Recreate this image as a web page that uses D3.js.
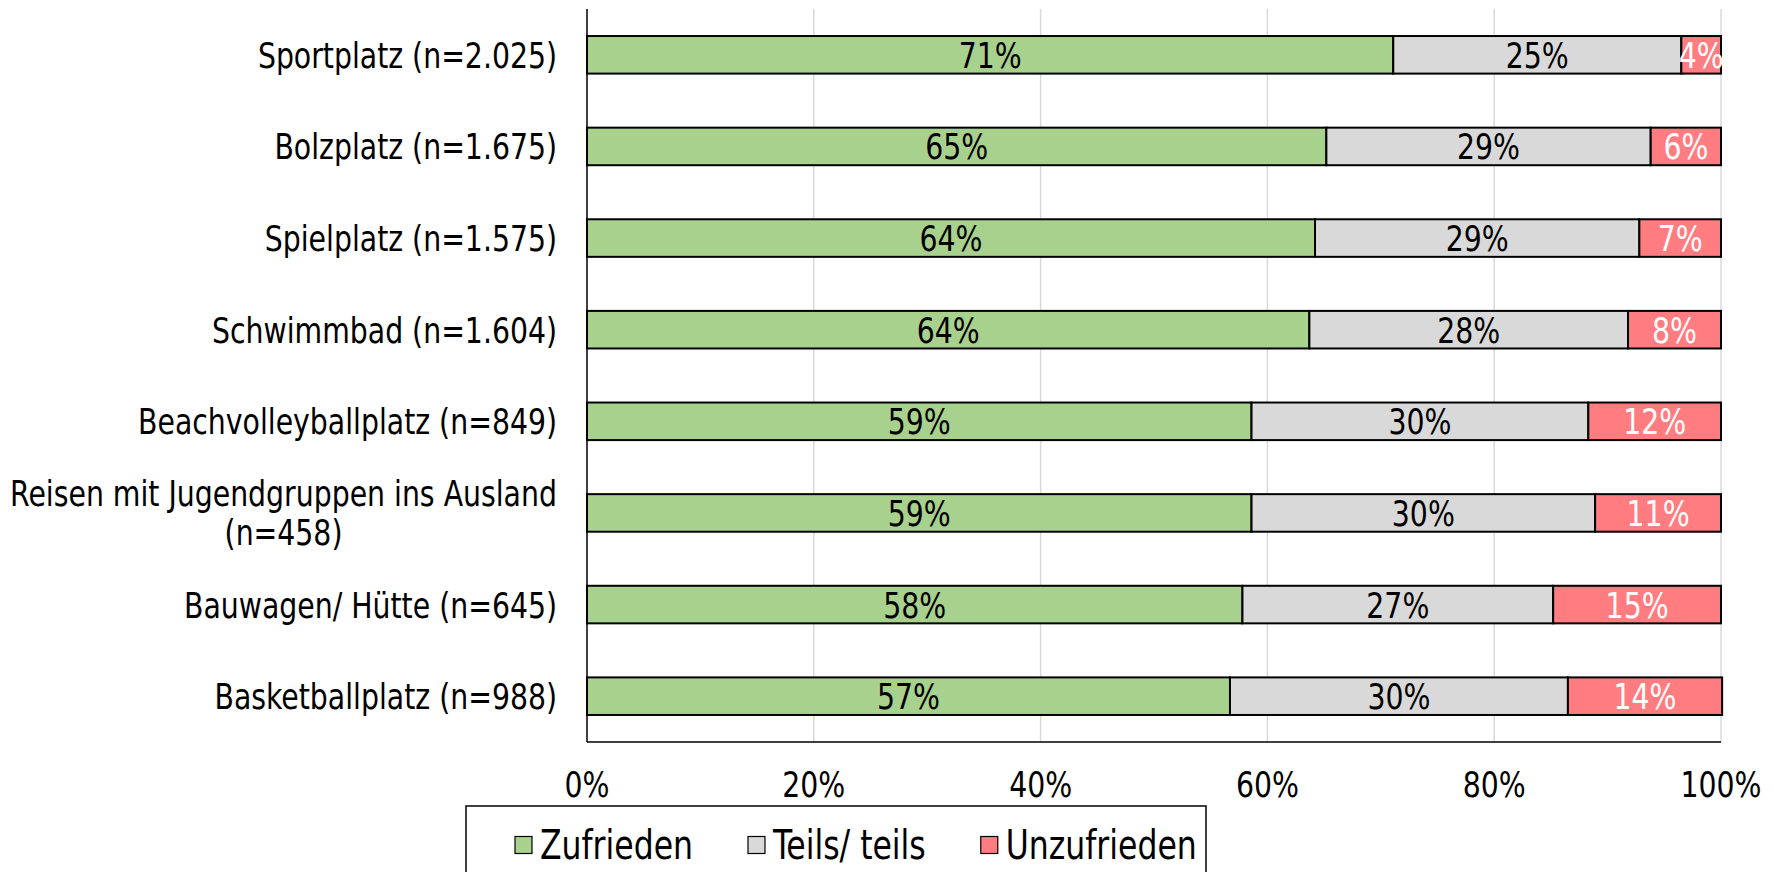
<!DOCTYPE html>
<html>
<head>
<meta charset="utf-8">
<script src="https://cdn.jsdelivr.net/npm/d3@7"></script>
<style>
body { margin: 0; background: #fff; }
text { font-family: "DejaVu Sans Condensed", "DejaVu Sans", sans-serif; }
</style>
</head>
<body>
<svg id="chart"></svg>
<script>
var categories = [
    "Sportplatz (n=2.025)",
    "Bolzplatz (n=1.675)",
    "Spielplatz (n=1.575)",
    "Schwimmbad (n=1.604)",
    "Beachvolleyballplatz (n=849)",
    "Reisen mit Jugendgruppen ins Ausland|(n=458)",
    "Bauwagen/ Hütte (n=645)",
    "Basketballplatz (n=988)"
];
var zufrieden = [71.1, 65.2, 64.2, 63.7, 58.6, 58.6, 57.8, 56.7];
var teils     = [25.4, 28.6, 28.6, 28.1, 29.7, 30.3, 27.4, 29.8];
var unzufrieden = [3.5, 6.2, 7.2, 8.2, 11.7, 11.1, 14.8, 13.6];
var seriesNames = ["Zufrieden", "Teils/ teils", "Unzufrieden"];
var seriesColors = ["#a9d18e", "#d9d9d9", "#ff7c80"];
var labelColors = ["#000", "#000", "#fff"];
var xTicks = [0, 20, 40, 60, 80, 100];

var W = 1774, H = 872;
var plotLeft = 587, plotRight = 1721, plotTop = 9, plotBottom = 742;
var fs = 36, sx = 0.875;

var svg = d3.select("#chart").attr("width", W).attr("height", H);

// narrow text: squeeze horizontally so glyphs look like the tall narrow font of the original
function label(parent, px, py, str, size, anchor, color){
    return parent.append("text")
        .attr("transform", "translate(" + px + "," + py + ") scale(" + sx + ",1)")
        .attr("dy", "0.36em")
        .attr("text-anchor", anchor)
        .attr("font-size", size)
        .attr("fill", color || "#000")
        .text(str);
}

var x = d3.scaleLinear().domain([0, 100]).range([plotLeft, plotRight]);
var y = d3.scaleBand().domain(categories).range([plotTop, plotBottom]).paddingInner(0.59).paddingOuter(0.295);

// gridlines
svg.selectAll(".grid")
    .data(xTicks.slice(1))
    .enter().append("line")
    .attr("x1", function(d){return x(d)})
    .attr("x2", function(d){return x(d)})
    .attr("y1", plotTop)
    .attr("y2", plotBottom)
    .attr("stroke", "#d9d9d9")
    .attr("stroke-width", 1.5);

var rows = categories.map(function(c, i){
    return [zufrieden[i], teils[i], unzufrieden[i]];
});

rows.forEach(function(vals, i){
    var start = 0;
    vals.forEach(function(v, s){
        var g = svg.append("g");
        g.append("rect")
            .attr("x", x(start))
            .attr("y", y(categories[i]))
            .attr("width", x(start + v) - x(start))
            .attr("height", y.bandwidth())
            .attr("fill", seriesColors[s])
            .attr("stroke", "#000")
            .attr("stroke-width", 2);
        label(g, (x(start) + x(start + v)) / 2, y(categories[i]) + y.bandwidth() / 2,
            Math.round(v) + "%", fs, "middle", labelColors[s]);
        start += v;
    });
});

// axes lines
svg.append("line")
    .attr("x1", plotLeft).attr("x2", plotLeft)
    .attr("y1", plotTop).attr("y2", plotBottom)
    .attr("stroke", "#000").attr("stroke-width", 1.5);
svg.append("line")
    .attr("x1", plotLeft).attr("x2", plotRight)
    .attr("y1", plotBottom).attr("y2", plotBottom)
    .attr("stroke", "#000").attr("stroke-width", 1.5);

// x tick labels
xTicks.forEach(function(d){
    label(svg, x(d), 784, d + "%", fs, "middle");
});

// category labels
categories.forEach(function(c){
    var lines = c.split("|");
    var cy = y(c) + y.bandwidth() / 2;
    var lh = 39;
    if (lines.length > 1) {
        var tmp = svg.append("text").attr("font-size", fs).text(lines[0]);
        var w = tmp.node().getComputedTextLength() * sx;
        tmp.remove();
        lines.forEach(function(l, k){
            label(svg, 557 - w / 2, cy + (k - (lines.length - 1) / 2) * lh, l, fs, "middle");
        });
    } else {
        label(svg, 557, cy, c, fs, "end");
    }
});

// legend
var legend = svg.append("g");
var lx = 515, ly = 845, sw = 17, lfs = 40;
seriesNames.forEach(function(n, i){
    var g = legend.append("g").attr("transform", "translate(" + lx + "," + ly + ")");
    g.append("rect")
        .attr("x", 0).attr("y", -sw / 2)
        .attr("width", sw).attr("height", sw)
        .attr("fill", seriesColors[i])
        .attr("stroke", "#000").attr("stroke-width", 1.2);
    var t = label(g, sw + 8, 0, n, lfs, "start");
    lx += sw + 8 + t.node().getComputedTextLength() * sx + 55;
});
legend.insert("rect", ":first-child")
    .attr("x", 466).attr("y", 806)
    .attr("width", 740).attr("height", 80)
    .attr("fill", "#fff")
    .attr("stroke", "#000").attr("stroke-width", 1.5);
</script>
</body>
</html>
